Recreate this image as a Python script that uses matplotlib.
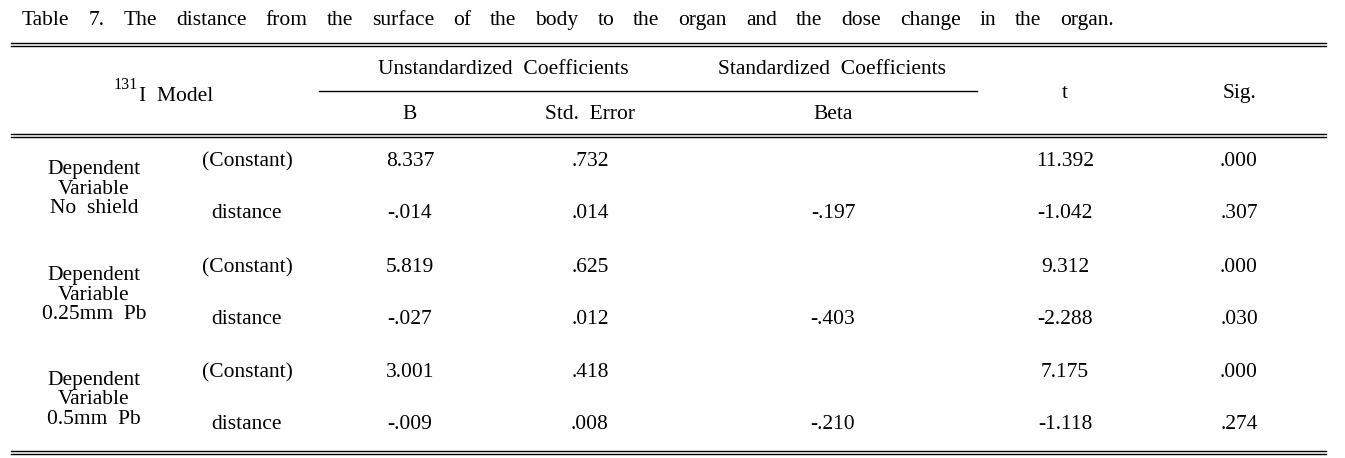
import matplotlib
matplotlib.use("Agg")
from matplotlib import pyplot as plt

plt.rcParams['font.family'] = ['Liberation Serif', 'DejaVu Serif']

TITLE = "Table 7. The distance from the surface of the body to the organ and the dose change in the organ."

groups = [["Dependent", "Variable", "No  shield"],
          ["Dependent", "Variable", "0.25mm  Pb"],
          ["Dependent", "Variable", "0.5mm  Pb"]]
terms = ["(Constant)", "distance"]

b_vals = [["8.337", "-.014"], ["5.819", "-.027"], ["3.001", "-.009"]]
se_vals = [[".732", ".014"], [".625", ".012"], [".418", ".008"]]
beta_vals = [["", "-.197"], ["", "-.403"], ["", "-.210"]]
t_vals = [["11.392", "-1.042"], ["9.312", "-2.288"], ["7.175", "-1.118"]]
sig_vals = [[".000", ".307"], [".000", ".030"], [".000", ".274"]]

W, H = 1345, 458
fig = plt.figure(figsize=(W / 100, H / 100), dpi=100)
ax = fig.add_axes([0, 0, 1, 1])
ax.set_xlim(0, W)
ax.set_ylim(H, 0)
ax.axis('off')

fs = 15.5

# title, words spread out like a justified line
words = TITLE.split(" ")
fig.canvas.draw()
r = fig.canvas.get_renderer()
tmp = [ax.text(0, 0, w, fontsize=fs) for w in words]
widths = [t.get_window_extent(r).width for t in tmp]
for t in tmp:
    t.remove()
x0, x1 = 22, 1114
gap = (x1 - x0 - sum(widths)) / (len(words) - 1)
x = x0
for w, wd in zip(words, widths):
    ax.text(x, 25, w, fontsize=fs, va='baseline', ha='left')
    x += wd + gap

# rules
def double(y):
    ax.plot([11, 1326], [y, y], color='black', lw=1.0)
    ax.plot([11, 1326], [y + 3.3, y + 3.3], color='black', lw=1.0)

double(42.5)
double(134)
double(450.5)
ax.plot([319, 977], [90.5, 90.5], color='black', lw=1.0)

cols = [165, 247, 410, 590, 833, 1065, 1239]

def cell(x, y, s, ha='center', size=fs):
    # y is the baseline, like the reference's typeset rows
    ax.text(x, y, s, fontsize=size, ha=ha, va='baseline')

# header
cell(138, 89, "131", ha='right', size=fs * 0.75)
cell(139, 101, "I  Model", ha='left')
cell(503, 74, "Unstandardized  Coefficients")
cell(832, 74, "Standardized  Coefficients")
cell(cols[2], 119, "B")
cell(cols[3], 119, "Std.  Error")
cell(cols[4], 119, "Beta")
cell(cols[5], 98, "t")
cell(cols[6], 98, "Sig.")

# body
row_y = [[166, 218], [272, 324], [377, 429]]
for g in range(3):
    ya, yb = row_y[g]
    for k, line in enumerate(groups[g]):
        cell(94, ya + 8 + k * 19.5, line)
    for j in range(2):
        y = row_y[g][j]
        cell(cols[1], y, terms[j])
        cell(cols[2], y, b_vals[g][j])
        cell(cols[3], y, se_vals[g][j])
        cell(cols[4], y, beta_vals[g][j])
        cell(cols[5], y, t_vals[g][j])
        cell(cols[6], y, sig_vals[g][j])

fig.savefig("out.png", dpi=100)
